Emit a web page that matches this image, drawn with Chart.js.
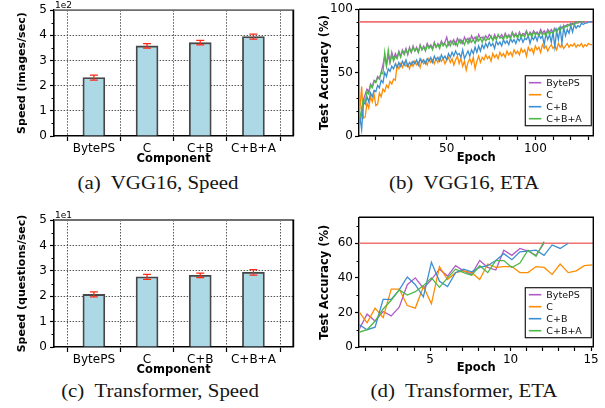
<!DOCTYPE html>
<html>
<head>
<meta charset="utf-8">
<script src="https://cdn.jsdelivr.net/npm/chart.js@4.4.1/dist/chart.umd.min.js"></script>
<style>
  html, body { margin: 0; padding: 0; background: #fff; }
  body { width: 605px; height: 408px; position: relative; overflow: hidden; }
  canvas { position: absolute; }
  .cap {
    position: absolute; width: 300px; text-align: center;
    font-family: 'Liberation Serif', 'Times New Roman', serif;
    font-size: 18.5px; line-height: 18.5px; color: #151515; white-space: pre;
    transform: scaleX(1.13); transform-origin: center;
  }
</style>
</head>
<body>
<canvas id="vggSpeed" width="300" height="168" style="left:0;top:0"></canvas>
<canvas id="vggEta" width="305" height="168" style="left:300px;top:0"></canvas>
<canvas id="trfSpeed" width="300" height="180" style="left:0;top:200px"></canvas>
<canvas id="trfEta" width="305" height="180" style="left:300px;top:200px"></canvas>
<div class="cap" style="left:8px;top:174px">(a)  VGG16, Speed</div>
<div class="cap" style="left:314px;top:174px">(b)  VGG16, ETA</div>
<div class="cap" style="left:10px;top:382px">(c)  Transformer, Speed</div>
<div class="cap" style="left:314px;top:382px">(d)  Transformer, ETA</div>
<script>
// ---------------- data ----------------
const components = ['BytePS', 'C', 'C+B', 'C+B+A'];

// training speed (mean and spread)
const vggSpeed    = [232, 358, 371, 395];      // images/sec
const vggSpeedErr = [10, 9, 9, 10];
const trfSpeed    = [20.7, 27.6, 28.2, 29.4];  // questions/sec
const trfSpeedErr = [1.0, 1.0, 0.9, 1.1];

const vggSpeedTicks  = [0, 100, 200, 300, 400, 500];
const vggSpeedMinor  = [50, 150, 250, 350, 450];
const trfSpeedTicks  = [0, 10, 20, 30, 40, 50];
const trfSpeedMinor  = [5, 15, 25, 35, 45];

// accuracy curves
const seriesNames  = ['BytePS', 'C', 'C+B', 'C+B+A'];
const seriesColors = ['#b05cc6', '#ff8c00', '#3b8fd0', '#4db848'];

const vggTarget = 90;
const vggBytePS = [
  10, 18, 28, 33, 37, 35, 41, 39, 44, 43,
  47, 45, 50, 56, 63, 55, 64, 58, 66, 61,
  65, 62, 67, 63, 68, 65, 69, 64, 70, 66,
  71, 67, 70, 66, 72, 68, 71, 68, 73, 70,
  72, 69, 74, 70, 73, 71, 75, 72, 74, 78,
  72, 75, 73, 76, 72, 77, 74, 76, 73, 78,
  75, 77, 74, 79, 76, 78, 75, 80, 77, 78,
  76, 79, 77, 80, 78, 76, 80, 77, 79, 78,
  80, 77, 81, 78, 80, 78, 82, 79, 81, 78,
  82, 79, 81, 80, 83, 79, 82, 80, 83, 81,
  82, 80, 84, 81, 83, 80, 84, 82, 84, 81,
  85, 83, 84, 86, 85, 87, 86, 88, 87, 89,
  88, 89, 90, 89, 90, 90, 90, 90
];
const vggC = [
  21, 39, 14, 15, 26, 22, 31, 27, 33, 24,
  25, 34, 31, 37, 35, 40, 38, 43, 41, 45,
  44, 56, 53, 57, 54, 58, 55, 57, 53, 58,
  55, 59, 56, 58, 54, 60, 57, 59, 56, 61,
  58, 60, 57, 61, 58, 62, 59, 61, 57, 60,
  62, 58, 61, 56, 60, 63, 57, 61, 55, 59,
  52, 58, 61, 57, 62, 53, 59, 63, 58, 62,
  60, 64, 61, 63, 59, 65, 62, 64, 61, 66,
  63, 65, 62, 67, 64, 66, 63, 68, 65, 67,
  64, 69, 66, 68, 63, 70, 67, 69, 65, 71,
  68, 70, 66, 72, 69, 71, 67, 70, 72, 69,
  71, 68, 73, 70, 72, 69, 71, 73, 70, 72,
  71, 73, 70, 72, 71, 73, 70, 72, 71, 73,
  72, 72
];
const vggCB = [
  15, 5, 27, 25, 31, 27, 34, 31, 36, 35,
  40, 38, 44, 42, 50, 47, 53, 51, 55, 53,
  57, 54, 58, 55, 59, 56, 60, 55, 58, 56,
  59, 57, 60, 56, 61, 58, 60, 57, 61, 59,
  62, 58, 63, 60, 62, 59, 64, 61, 63, 60,
  65, 62, 66, 63, 67, 64, 65, 62, 68, 61,
  64, 67, 63, 68, 65, 70, 66, 71, 67, 72,
  69, 73, 70, 74, 71, 73, 69, 75, 72, 74,
  71, 76, 73, 75, 72, 77, 74, 76, 73, 77,
  75, 78, 74, 77, 76, 79, 73, 78, 76, 79,
  75, 80, 77, 79, 72, 81, 76, 80, 74, 82,
  70, 83, 76, 85, 73, 86, 79, 84, 81, 87,
  82, 88, 85, 87, 86, 89, 88, 89, 89, 90,
  90, 90
];
const vggCBA = [
  14, 22, 29, 27, 35, 33, 40, 38, 43, 42,
  46, 45, 50, 49, 66, 56, 68, 58, 64, 59,
  63, 61, 66, 62, 67, 64, 68, 65, 69, 66,
  70, 67, 69, 66, 71, 68, 70, 67, 72, 69,
  71, 68, 73, 70, 72, 69, 74, 71, 73, 70,
  74, 71, 75, 72, 74, 71, 76, 73, 75, 72,
  76, 73, 77, 74, 76, 73, 78, 75, 77, 74,
  78, 75, 77, 76, 79, 75, 78, 76, 80, 77,
  78, 76, 80, 77, 79, 77, 81, 78, 80, 77,
  81, 78, 80, 78, 82, 79, 81, 78, 82, 80,
  81, 79, 82, 80, 81, 79, 83, 80, 82, 81,
  84, 82, 85, 83, 86, 85, 87, 86, 88, 87,
  89, 88, 89, 90, 90, 90, 90
];
const vggEpochTicks = [10, 20, 30, 40, 50, 60, 70, 80, 90, 100, 110, 120, 130];
const vggEpochLabels = [50, 100];
const vggAccTicks = [0, 50, 100];
const vggAccMinor = [10, 20, 30, 40, 60, 70, 80, 90];

const trfTarget = 60;
const trfEpochs = [
  0.58, 1.08, 1.58, 2.08, 2.58, 3.08, 3.58, 4.08, 4.58, 5.08,
  5.58, 6.08, 6.58, 7.08, 7.58, 8.08, 8.58, 9.08, 9.58, 10.08,
  10.58, 11.08, 11.58, 12.08, 12.58, 13.08, 13.58, 14.08, 14.58, 15.08
];
const trfBytePS = [10, 19, 15, 20.5, 18, 23, 36, 40, 34, 39, 45, 41, 47, 44, 42, 50, 46, 44.5, 56, 53, 57, 55.5, 53, 60];
const trfC      = [20.5, 14, 22.5, 17, 33.5, 33.5, 24, 22.5, 35, 25, 46.5, 39, 43, 44, 43, 39, 48, 46, 46.5, 46.5, 43, 43, 46.5, 46, 42, 48, 43, 44, 47, 47.5];
const trfCB     = [13, 10, 11.5, 27.5, 27.5, 33, 40.5, 36, 29, 49, 38, 35, 43, 45, 43.5, 46, 47, 50, 54, 50.5, 55, 55.5, 56, 53, 59, 57, 60];
const trfCBA    = [8.5, 10, 15, 22, 27, 33, 30, 32, 35.5, 40, 34.5, 40, 45, 43, 41.5, 47, 43, 50, 50, 46, 48.5, 56, 52.5, 61];
const trfEpochTicks = [1, 2, 3, 4, 5, 6, 7, 8, 9, 10, 11, 12, 13, 14, 15];
const trfEpochLabels = [5, 10, 15];
const trfAccTicks = [0, 20, 40, 60];
const trfAccMinor = [10, 30, 50, 70];

// ---------------- shared styling ----------------
Chart.defaults.font.family = "'DejaVu Sans', 'Liberation Sans', sans-serif";
Chart.defaults.color = '#000';
const TRANSPARENT = 'rgba(0,0,0,0)';
const GRID = '#555';

// error bars on top of the bars
const errorBars = {
  id: 'errorBars',
  afterDatasetsDraw(chart) {
    const {ctx} = chart;
    const yScale = chart.scales.y;
    chart.data.datasets.forEach((ds, di) => {
      if (!ds.errors) return;
      chart.getDatasetMeta(di).data.forEach((bar, i) => {
        const v = ds.data[i].y, e = ds.errors[i];
        const y1 = yScale.getPixelForValue(v + e), y2 = yScale.getPixelForValue(v - e);
        ctx.save();
        ctx.strokeStyle = '#ff2a14';
        ctx.lineWidth = 1.3;
        ctx.beginPath();
        ctx.moveTo(bar.x, y1); ctx.lineTo(bar.x, y2);
        ctx.moveTo(bar.x - 4, y1); ctx.lineTo(bar.x + 4, y1);
        ctx.moveTo(bar.x - 4, y2); ctx.lineTo(bar.x + 4, y2);
        ctx.stroke();
        ctx.restore();
      });
    });
  }
};

// closes the plot box on the top and right
const frame = {
  id: 'frame',
  afterDraw(chart, args, opts) {
    const {ctx, chartArea: a} = chart;
    ctx.save();
    ctx.lineWidth = opts.width;
    ctx.strokeStyle = opts.topColor;
    ctx.beginPath(); ctx.moveTo(a.left, a.top); ctx.lineTo(a.right + opts.width / 2, a.top); ctx.stroke();
    ctx.strokeStyle = opts.rightColor;
    ctx.beginPath(); ctx.moveTo(a.right, a.top); ctx.lineTo(a.right, a.bottom); ctx.stroke();
    ctx.restore();
  }
};

// short unlabelled ticks between the labelled ones
const minorTicks = {
  id: 'minorTicks',
  afterDraw(chart, args, opts) {
    const {ctx, chartArea: a, scales} = chart;
    ctx.save();
    ctx.strokeStyle = '#000';
    ctx.lineWidth = 1.1;
    ctx.beginPath();
    (opts.y || []).forEach(v => {
      const p = Math.round(scales.y.getPixelForValue(v)) + 0.5;
      ctx.moveTo(a.left - opts.length, p); ctx.lineTo(a.left, p);
    });
    (opts.x || []).forEach(v => {
      const p = Math.round(scales.x.getPixelForValue(v)) + 0.5;
      ctx.moveTo(p, a.bottom); ctx.lineTo(p, a.bottom + opts.length);
    });
    ctx.stroke();
    ctx.restore();
  }
};

// axis multiplier written above the value axis
const offsetText = {
  id: 'offsetText',
  afterDraw(chart, args, opts) {
    if (!opts.text) return;
    const {ctx, chartArea: a} = chart;
    ctx.save();
    ctx.font = "9px 'DejaVu Sans', sans-serif";
    ctx.fillStyle = '#000';
    ctx.textBaseline = 'alphabetic';
    ctx.textAlign = 'left';
    ctx.fillText(opts.text, a.left + 1, a.top - 2);
    ctx.restore();
  }
};

// boxed legend in the lower-right corner of the plot
const insideLegend = {
  id: 'insideLegend',
  afterDraw(chart, args, opts) {
    if (!opts.display) return;
    const {ctx, chartArea: a} = chart;
    const items = chart.data.datasets.filter(d => d.inLegend !== false);
    const w = 66, rowH = 12, h = 50;
    const x0 = a.right - 2 - w, y0 = a.bottom - opts.bottomGap - h;
    ctx.save();
    ctx.fillStyle = '#fff';
    ctx.fillRect(x0, y0, w, h);
    ctx.strokeStyle = '#1a1a1a';
    ctx.lineWidth = 1.2;
    ctx.strokeRect(x0, y0, w, h);
    ctx.font = "9.5px 'DejaVu Sans', sans-serif";
    ctx.textBaseline = 'middle';
    ctx.textAlign = 'left';
    items.forEach((d, i) => {
      const cy = y0 + 7 + rowH * i;
      ctx.strokeStyle = d.borderColor;
      ctx.lineWidth = 1.6;
      ctx.beginPath(); ctx.moveTo(x0 + 3.5, cy); ctx.lineTo(x0 + 16, cy); ctx.stroke();
      ctx.fillStyle = '#111';
      ctx.fillText(d.label, x0 + 21, cy + 0.5);
    });
    ctx.restore();
  }
};

const tickValue = c => (c && c.tick) ? c.tick.value : null;

// ---------------- speed bar charts ----------------
function speedChart(id, cfg) {
  const centers = components.map((c, i) => i);
  const edges = components.map((c, i) => i - 0.5).concat([components.length - 0.5]);
  const xTicks = centers.concat(edges).sort((p, q) => p - q);
  const yMax = cfg.ticks[cfg.ticks.length - 1];
  return new Chart(document.getElementById(id), {
    type: 'bar',
    data: {
      datasets: [{
        data: components.map((c, i) => ({x: i, y: cfg.values[i]})),
        errors: cfg.errors,
        backgroundColor: '#add8e6',
        borderColor: '#474747',
        borderWidth: 1.8,
        barThickness: 22
      }]
    },
    options: {
      responsive: false,
      animation: false,
      devicePixelRatio: 1,
      layout: {padding: {top: cfg.top, right: 6.7, left: 0, bottom: 0}},
      plugins: {
        legend: {display: false},
        tooltip: {enabled: false},
        frame: {width: 1.8, topColor: '#6e6e6e', rightColor: '#000'},
        minorTicks: {y: cfg.minor, length: 2.5},
        offsetText: {text: cfg.multiplier},
        insideLegend: {display: false}
      },
      scales: {
        x: {
          type: 'linear', min: -0.75, max: components.length - 0.25, offset: false,
          afterBuildTicks: s => { s.ticks = xTicks.map(v => ({value: v})); },
          afterFit: s => { s.height = cfg.xHeight; },
          ticks: {
            autoSkip: false, maxRotation: 0, padding: 1, font: {size: 12},
            callback: v => Number.isInteger(v) ? components[v] : ''
          },
          grid: {
            offset: false,
            color: c => { const v = tickValue(c); return (v === null || Number.isInteger(v)) ? TRANSPARENT : GRID; },
            lineWidth: 1, tickLength: 5, tickWidth: 1.2,
            tickColor: c => { const v = tickValue(c); return (v === null || Number.isInteger(v)) ? TRANSPARENT : '#000'; }
          },
          border: {color: '#000', width: 1.6, dash: [1.5, 1.5]},
          title: {
            display: true, text: 'Component', font: {size: 11.5, weight: 'bold'},
            padding: {top: 0, bottom: cfg.xTitlePad}
          }
        },
        y: {
          min: 0, max: yMax,
          afterBuildTicks: s => { s.ticks = cfg.ticks.map(v => ({value: v})); },
          afterFit: s => { s.width = 54; },
          ticks: {padding: 3, font: {size: 12}, callback: v => v / cfg.unit},
          grid: {
            color: c => { const v = tickValue(c); return (v !== null && v > 0 && v < yMax) ? GRID : TRANSPARENT; },
            lineWidth: 1, tickLength: 4, tickWidth: 1.2, tickColor: '#000'
          },
          border: {color: '#000', width: 1.6, dash: [1.5, 1.5]},
          title: {
            display: true, text: cfg.yTitle, font: {size: 11, weight: 'bold'},
            padding: {top: 16, bottom: 0}
          }
        }
      }
    },
    plugins: [errorBars, frame, minorTicks, offsetText, insideLegend]
  });
}

// ---------------- accuracy line charts ----------------
function accuracyChart(id, cfg) {
  const datasets = cfg.series.map((vals, k) => ({
    label: seriesNames[k],
    data: vals.map((v, i) => ({x: cfg.epochs ? cfg.epochs[i] : i + 1, y: v})),
    borderColor: seriesColors[k],
    borderWidth: 1.3,
    pointRadius: 0,
    tension: 0,
    fill: false,
    order: cfg.series.length - 1 - k
  }));
  datasets.push({
    label: 'target',
    inLegend: false,
    data: [{x: cfg.xMin, y: cfg.target}, {x: cfg.xMax, y: cfg.target}],
    borderColor: '#f27272',
    borderWidth: 1.7,
    pointRadius: 0,
    fill: false,
    order: cfg.series.length
  });
  return new Chart(document.getElementById(id), {
    type: 'line',
    data: {datasets},
    options: {
      responsive: false,
      animation: false,
      devicePixelRatio: 1,
      layout: {padding: {top: cfg.top, right: 11.7, left: 0, bottom: 0}},
      plugins: {
        legend: {display: false},
        tooltip: {enabled: false},
        frame: {width: 1.4, topColor: '#000', rightColor: '#000'},
        minorTicks: {y: cfg.yMinor, length: 2.5},
        offsetText: {text: ''},
        insideLegend: {display: true, bottomGap: cfg.legendGap}
      },
      scales: {
        x: {
          type: 'linear', min: cfg.xMin, max: cfg.xMax,
          afterBuildTicks: s => { s.ticks = cfg.xTicks.map(v => ({value: v})); },
          afterFit: s => { s.height = cfg.xHeight; },
          ticks: {
            autoSkip: false, maxRotation: 0, padding: 2, font: {size: 12},
            callback: v => cfg.xLabels.includes(v) ? String(v) : ''
          },
          grid: {drawOnChartArea: false, tickLength: 4, tickWidth: 1.2, tickColor: '#000'},
          border: {color: '#000', width: 1.4},
          title: {
            display: true, text: 'Epoch', font: {size: 11.5, weight: 'bold'},
            padding: {top: 0, bottom: cfg.xTitlePad}
          }
        },
        y: {
          min: 0, max: cfg.yMax,
          afterBuildTicks: s => { s.ticks = cfg.yTicks.map(v => ({value: v})); },
          afterFit: s => { s.width = 59; },
          ticks: {padding: 2, font: {size: 12}},
          grid: {drawOnChartArea: false, tickLength: 4, tickWidth: 1.2, tickColor: '#000'},
          border: {color: '#000', width: 1.4},
          title: {
            display: true, text: 'Test Accuracy (%)', font: {size: 11.5, weight: 'bold'},
            padding: {top: 18.5, bottom: 0}
          }
        }
      }
    },
    plugins: [frame, minorTicks, offsetText, insideLegend]
  });
}

speedChart('vggSpeed', {
  values: vggSpeed, errors: vggSpeedErr, ticks: vggSpeedTicks, minor: vggSpeedMinor,
  unit: 100, multiplier: '1e2', yTitle: 'Speed (images/sec)',
  top: 9, xHeight: 32, xTitlePad: 2
});
speedChart('trfSpeed', {
  values: trfSpeed, errors: trfSpeedErr, ticks: trfSpeedTicks, minor: trfSpeedMinor,
  unit: 10, multiplier: '1e1', yTitle: 'Speed (questions/sec)',
  top: 20, xHeight: 33, xTitlePad: 3
});
accuracyChart('vggEta', {
  series: [vggBytePS, vggC, vggCB, vggCBA], target: vggTarget,
  xMin: 0.5, xMax: 132.7, xTicks: vggEpochTicks, xLabels: vggEpochLabels,
  yMax: 100, yTicks: vggAccTicks, yMinor: vggAccMinor,
  top: 6.7, xHeight: 32, xTitlePad: 3, legendGap: 10.3
});
accuracyChart('trfEta', {
  series: [trfBytePS, trfC, trfCB, trfCBA], epochs: trfEpochs, target: trfTarget,
  xMin: 0.58, xMax: 15.14, xTicks: trfEpochTicks, xLabels: trfEpochLabels,
  yMax: 75, yTicks: trfAccTicks, yMinor: trfAccMinor,
  top: 17.3, xHeight: 33, xTitlePad: 5, legendGap: 9.3
});
</script>
</body>
</html>
